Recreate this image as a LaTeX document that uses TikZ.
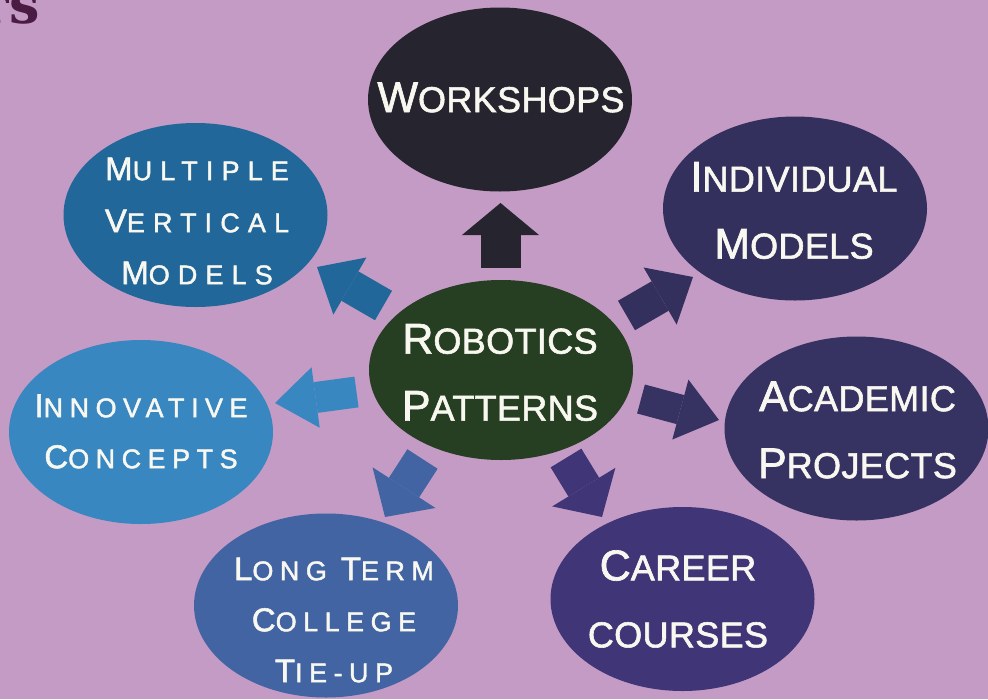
\documentclass[tikz,border=0pt]{standalone}
\usepackage{fontspec}
\setmainfont{Liberation Sans}
\newfontfamily\labfont[LetterSpace=1,FakeBold=1.6]{Liberation Sans}
\newfontfamily\labfontw[LetterSpace=24,FakeBold=1.6]{Liberation Sans}
\newfontfamily\labfontx[LetterSpace=30,FakeBold=1.6]{Liberation Sans}
\newfontfamily\titlefont{DejaVu Serif}
\usetikzlibrary{shapes.geometric,arrows.meta}
\definecolor{bg}{HTML}{C49BC4}
\definecolor{wsC}{HTML}{25242F}
\definecolor{ctrC}{HTML}{263E22}
\definecolor{mvmC}{HTML}{21679A}
\definecolor{icC}{HTML}{3887C0}
\definecolor{ltcC}{HTML}{4264A3}
\definecolor{carC}{HTML}{3F3577}
\definecolor{apC}{HTML}{363262}
\definecolor{imC}{HTML}{34305E}
\definecolor{txt}{HTML}{F8F8F0}
\definecolor{titleC}{HTML}{4B1C43}
\newcommand\Bc[1]{{\fontsize{43}{67}\selectfont #1}}
\newcommand\Sc[1]{{\fontsize{33}{51}\selectfont #1}}
\tikzset{
  bub/.style={ellipse, minimum width=264pt, minimum height=184pt, inner sep=0pt, fill=#1},
  lab/.style={text=txt, align=center, inner sep=0pt},
  biglab/.style={lab, font=\labfont\fontsize{36}{67}\selectfont},
  smalllab/.style={lab, font=\labfontw\fontsize{27}{51}\selectfont},
  widelab/.style={lab, font=\labfontx\fontsize{27}{52}\selectfont},
  blk/.style n args={4}{draw=#4, line width=#1, -{Triangle[width=#2, length=#3, line width=0pt 0]}}
}
\begin{document}
\begin{tikzpicture}[x=1pt,y=-1pt]
\clip (0,0) rectangle (988,699);
\fill[bg] (0,0) rectangle (988,699);

\node[anchor=base east, inner sep=0pt, text=titleC, font=\titlefont\bfseries\fontsize{54}{54}\selectfont] (title) at (40,23.5) {rs};

% ellipses
\node[bub=wsC] (ws) at (500,99.5) {};
\node[bub=ctrC, minimum height=180pt] (ctr) at (501,370) {};
\node[bub=mvmC] (mvm) at (195.5,215) {};
\node[bub=icC] (ic) at (141,432) {};
\node[bub=imC] (im) at (795,208.5) {};
\node[bub=apC] (ap) at (856.5,428.5) {};
\node[bub=ltcC] (ltc) at (326,605.5) {};
\node[bub=carC] (car) at (682.5,599) {};

% labels
\node[biglab] (ws-t) at (501,97.5) {\Bc{W}ORKSHOPS};
\node[biglab] (ctr-t) at (500,372.5) {\Bc{R}OBOTICS\\\Bc{P}ATTERNS};
\node[biglab] (im-t) at (794,210.5) {\Bc{I}NDIVIDUAL\\\Bc{M}ODELS};
\node[biglab] (ap-t) at (857.5,430) {\Bc{A}CADEMIC\\\Bc{P}ROJECTS};
\node[biglab] (car-t) at (678,599) {\Bc{C}AREER\\COURSES};
\node[widelab] (mvm-t) at (197,221) {\Sc{M}ULTIPLE\\\Sc{V}ERTICAL\\\Sc{M}ODELS};
\node[smalllab] (ic-t) at (141,431.5) {\Sc{I}NNOVATIVE\\\Sc{C}ONCEPTS};
\node[smalllab] (ltc-t) at (334,620) {\Sc{L}ONG \Sc{T}ERM\\\Sc{C}OLLEGE\\\Sc{T}IE-UP};

% arrow end points
\coordinate (ws-s) at (500.5,268);   \coordinate (ws-e) at (500.5,203);
\coordinate (mvm-s) at (383.5,305.5); \coordinate (mvm-e) at (317,267);
\coordinate (ic-s) at (356.5,392);   \coordinate (ic-e) at (275,403);
\coordinate (im-s) at (626.5,315.5); \coordinate (im-e) at (693,277);
\coordinate (ap-s) at (641,399);     \coordinate (ap-e) at (719,420);
\coordinate (ltc-s) at (422.5,459);  \coordinate (ltc-e) at (385,517);
\coordinate (car-s) at (566,458);    \coordinate (car-e) at (602,517);

\draw[blk={40pt}{77pt}{32pt}{wsC}] (ws-s) -- (ws-e);
\draw[blk={34pt}{66pt}{38pt}{mvmC}] (mvm-s) -- (mvm-e);
\draw[blk={31pt}{61pt}{41pt}{icC}] (ic-s) -- (ic-e);
\draw[blk={34pt}{66pt}{38pt}{imC}] (im-s) -- (im-e);
\draw[blk={30pt}{62pt}{40pt}{apC}] (ap-s) -- (ap-e);
\draw[blk={36pt}{75pt}{35pt}{ltcC}] (ltc-s) -- (ltc-e);
\draw[blk={36pt}{74pt}{35pt}{carC}] (car-s) -- (car-e);
\end{tikzpicture}
\end{document}
